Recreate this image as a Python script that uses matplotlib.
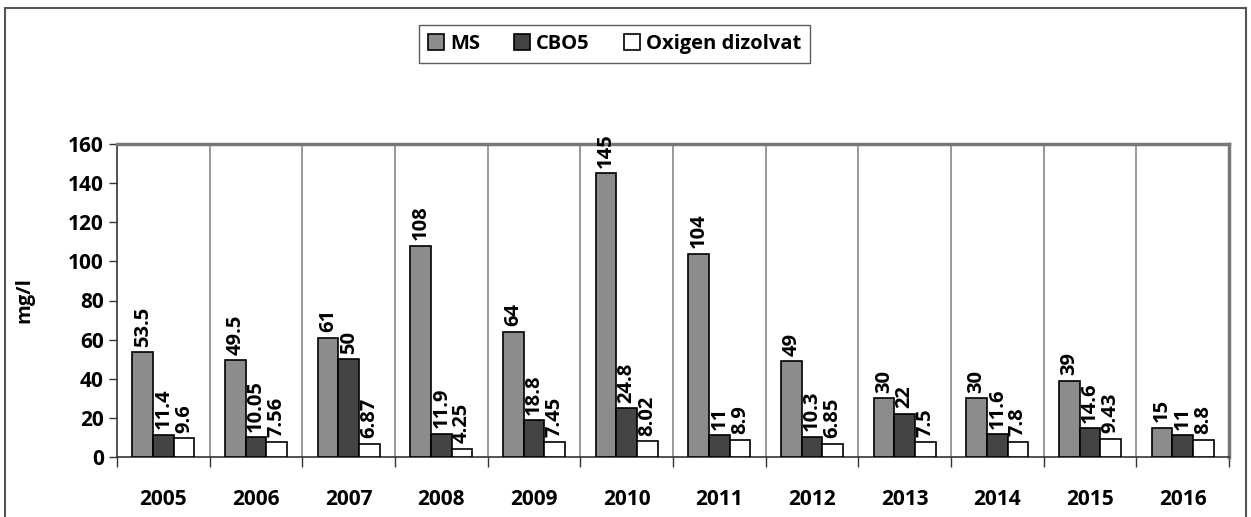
import numpy as np
import matplotlib.pyplot as plt
from matplotlib.patches import Rectangle

# Annual mean values (mg/l)
years = ['2005', '2006', '2007', '2008', '2009', '2010',
         '2011', '2012', '2013', '2014', '2015', '2016']
ms = [53.5, 49.5, 61, 108, 64, 145, 104, 49, 30, 30, 39, 15]
cbo5 = [11.4, 10.05, 50, 11.9, 18.8, 24.8, 11, 10.3, 22, 11.6, 14.6, 11]
oxigen = [9.6, 7.56, 6.87, 4.25, 7.45, 8.02, 8.9, 6.85, 7.5, 7.8, 9.43, 8.8]

plt.rcParams['font.family'] = ['Open Sans', 'DejaVu Sans']
plt.rcParams['font.weight'] = 'bold'

fig = plt.figure(figsize=(12.51, 5.17), dpi=100)
ax = fig.add_axes([117 / 1251, 60 / 517, 1112 / 1251, 313 / 517])

# outer chart border
fig.patches.append(Rectangle((5 / 1251, -0.05), 1241 / 1251, 1.05 - 8 / 517,
                             transform=fig.transFigure, fill=False,
                             edgecolor='#555555', linewidth=1.5))

x = np.arange(len(years))
w = 0.223
series = [(ms, '#8c8c8c', 'MS'), (cbo5, '#444444', 'CBO5'),
          (oxigen, 'white', 'Oxigen dizolvat')]
for i, (vals, col, name) in enumerate(series):
    bars = ax.bar(x + (i - 1) * w, vals, w, color=col, edgecolor='black',
                  linewidth=1.2, label=name, zorder=3)
    ax.bar_label(bars, fmt='%g', rotation=90, padding=4, fontsize=14.5,
                 fontweight='bold')

ax.set_xlim(-0.5, len(years) - 0.5)
ax.set_ylim(0, 160)
ax.set_yticks(range(0, 161, 20))
ax.set_xticks(x)
ax.set_xticklabels(years)
ax.set_xticks(np.arange(-0.5, len(years), 1), minor=True)
ax.tick_params(axis='x', which='major', length=0, pad=23, labelsize=15)
ax.tick_params(axis='x', which='minor', length=7, width=1, color='#333333')
ax.tick_params(axis='y', length=6, width=1, color='#333333', labelsize=15)

# vertical separators between years
for b in np.arange(0.5, len(years) - 0.5, 1):
    ax.axvline(b, color='#888888', linewidth=1.2, zorder=1)

for side in ['top', 'right']:
    ax.spines[side].set_color('#777777')
    ax.spines[side].set_linewidth(2.5)
for side in ['left', 'bottom']:
    ax.spines[side].set_color('#333333')
    ax.spines[side].set_linewidth(1.2)

ax.set_ylabel('mg/l', fontsize=14.5, fontweight='bold', labelpad=24)

ax.legend(loc='center', bbox_to_anchor=(614.5 / 1251, 1 - 44 / 517),
          bbox_transform=fig.transFigure, ncol=3, frameon=True, fancybox=False,
          edgecolor='#333333', fontsize=14.5, handlelength=0.8, handleheight=0.8,
          handletextpad=0.3, columnspacing=1.7, borderpad=0.45, borderaxespad=0)

fig.savefig('out.png', dpi=100)
